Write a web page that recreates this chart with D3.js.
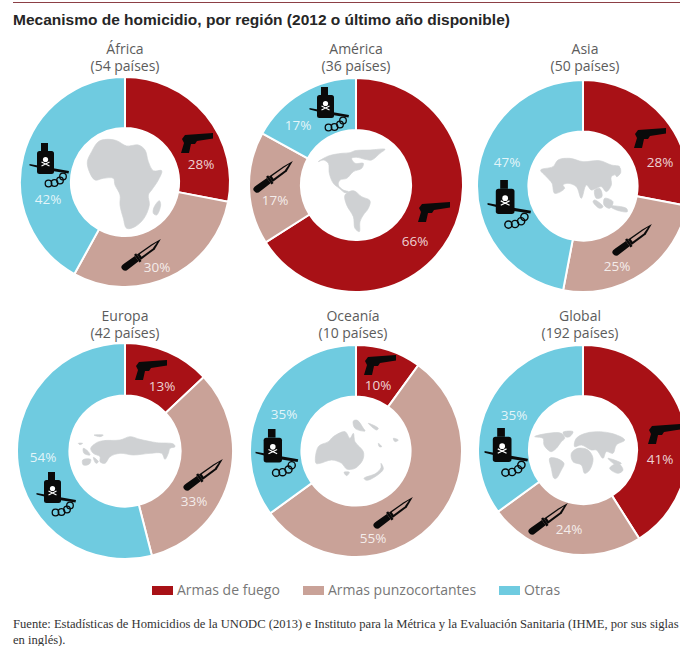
<!DOCTYPE html>
<html>
<head>
<meta charset="utf-8">
<script src="https://cdn.jsdelivr.net/npm/d3@7"></script>
<style>
  html, body { margin: 0; padding: 0; background: #fff; overflow: hidden; }
</style>
</head>
<body>
<div id="chart-area"></div>
<script>
const regions = ['África', 'América', 'Asia', 'Europa', 'Oceanía', 'Global'];
const countries = [54, 36, 50, 42, 10, 192];
const armasFuego = [28, 66, 28, 13, 10, 41];
const armasPunzo = [30, 17, 25, 33, 55, 24];
const otras = [42, 17, 47, 54, 35, 35];
const seriesNames = ['Armas de fuego', 'Armas punzocortantes', 'Otras'];

const colors = ['#a81116', '#c9a298', '#6fcbe0'];
const width = 680, height = 646;

// where each donut sits, its title, and the hand placed labels / icons
const layout = [
  {cx: 125, cy: 182, r: 105, titleX: 125, titleY: 54, labels: [[201, 164], [157, 267], [48, 199]], gun: [180, 133], knife: [141, 256], bottle: [29, 143], bs: 1},
  {cx: 356, cy: 185, r: 107, titleX: 356, titleY: 54, labels: [[415, 241], [275, 200], [298, 125]], gun: [417, 202], knife: [273, 178], bottle: [309, 87], bs: 1},
  {cx: 583, cy: 186, r: 106, titleX: 585, titleY: 54, labels: [[660, 162], [617, 266], [507, 162]], gun: [633, 128], knife: [632, 241], bottle: [487, 180], bs: 1.1},
  {cx: 125, cy: 451, r: 108, titleX: 125, titleY: 321, labels: [[162, 386], [194, 501], [43, 457]], gun: [134, 360], knife: [203, 476], bottle: [36, 472], bs: 1},
  {cx: 356, cy: 451, r: 106, titleX: 353, titleY: 321, labels: [[378, 385], [373, 538], [284, 414]], gun: [363, 355], knife: [393, 514], bottle: [255, 429], bs: 1.08},
  {cx: 583, cy: 450, r: 105, titleX: 580, titleY: 321, labels: [[660, 459], [569, 529], [514, 415]], gun: [647, 424], knife: [548, 520], bottle: [484, 428], bs: 1.1}
];

// rough silhouettes, at 3x, relative to a corner
const maps = [
  {at: [70, 130], shapes: [
    [[85,35],[110,28],[140,32],[170,48],[205,45],[225,60],[235,95],[250,122],[275,122],[265,150],[245,180],[235,195],[238,225],[222,265],[195,290],[170,295],[160,265],[150,225],[150,195],[135,165],[130,145],[100,145],[75,150],[58,125],[52,95],[65,65]],
    [[268,212],[272,225],[260,255],[250,250],[252,232]]
  ]},
  {at: [300, 130], shapes: [
    [[55,95],[85,78],[125,70],[150,68],[165,62],[210,60],[255,58],[240,70],[215,90],[195,88],[170,82],[155,85],[165,100],[190,100],[185,115],[160,125],[140,145],[120,150],[115,165],[130,180],[145,185],[135,188],[118,175],[100,160],[88,130],[85,100],[70,90]],
    [[135,195],[160,182],[185,200],[210,212],[205,235],[190,255],[180,275],[178,305],[165,295],[160,260],[140,225]]
  ]},
  {at: [528, 130], shapes: [
    [[38,120],[75,110],[90,90],[125,85],[165,95],[215,92],[250,105],[275,110],[265,125],[270,130],[250,140],[250,165],[235,185],[220,170],[205,175],[190,180],[175,165],[160,205],[145,170],[120,160],[105,165],[110,175],[80,190],[72,160],[55,140]],
    [[200,180],[215,175],[222,200],[205,205]],
    [[200,210],[225,230],[215,235],[195,215]],
    [[230,205],[255,215],[245,235],[228,225]],
    [[245,228],[295,235],[298,245],[265,240]],
    [[262,125],[275,112],[278,128],[266,140]]
  ]},
  {at: [70, 420], shapes: [
    [[80,68],[100,62],[150,60],[180,50],[210,58],[260,68],[310,72],[315,80],[300,85],[295,100],[285,118],[275,100],[240,100],[190,105],[150,100],[120,110],[105,130],[90,125],[90,110],[70,100],[62,85]],
    [[40,85],[55,95],[60,105],[42,100]],
    [[38,120],[62,118],[58,132],[40,135]],
    [[70,112],[85,125],[78,130]],
    [[72,45],[100,45],[90,50]],
    [[25,70],[38,70],[30,74]]
  ]},
  {at: [300, 395], shapes: [
    [[48,205],[55,155],[85,140],[100,125],[135,110],[150,130],[160,115],[165,140],[190,170],[188,195],[165,220],[140,222],[125,205],[95,195],[60,205]],
    [[160,78],[172,76],[190,100],[195,108],[165,100]],
    [[192,250],[228,235],[243,218],[243,205],[250,222],[230,242],[200,256]],
    [[132,232],[148,232],[140,242]],
    [[205,85],[235,100],[230,105]],
    [[235,145],[245,155],[238,155]],
    [[280,130],[295,135],[285,140]]
  ]},
  {at: [528, 395], shapes: [
    [[20,125],[60,115],[100,115],[110,130],[100,140],[85,160],[70,170],[60,165],[48,150],[45,130]],
    [[105,112],[135,110],[125,125],[112,125]],
    [[65,190],[85,190],[108,205],[100,225],[85,250],[78,250],[70,220]],
    [[130,175],[150,160],[180,165],[195,190],[185,225],[170,235],[160,210],[135,200]],
    [[140,155],[145,130],[185,112],[250,115],[290,135],[265,150],[255,175],[235,170],[225,190],[205,165],[190,165],[160,150]],
    [[245,220],[270,205],[285,225],[270,235]],
    [[240,190],[280,205],[265,210]]
  ]}
];

const gunPath = 'M5 2L33 0L33 5.5L17 8L15 11L11 11L9 20L1 20L4 10L2 6Z';
const knifeHandle = 'M-23 -0.5C-23 -3 -21 -3.5 -18 -3.5L-5 -3.5L-5 3L-18 3.5C-21 4 -23 2.5 -23 -0.5Z';
const knifeGuard = 'M-5 -5L-2.5 -5L-2.5 4.5L-5 4.5Z';
const knifeBlade = 'M-2.5 -3.5L15 -3.5L26 -2.5L15 2.5L-2.5 3Z';
const knifeBladeIn = 'M0 -2.2L15 -2.2L21 -2L14 0.5L0 1Z';

let svg = d3.select('#chart-area')
  .append('svg')
  .attr('width', width)
  .attr('height', height)
  .style('display', 'block');

svg.append('rect').attr('width', width).attr('height', height).attr('fill', '#fff');

svg.append('line')
  .attr('x1', 13).attr('x2', width).attr('y1', 2.5).attr('y2', 2.5)
  .attr('stroke', '#8c3f45').attr('stroke-width', 1);

svg.append('text')
  .attr('x', 13).attr('y', 25)
  .attr('font-family', 'Liberation Sans')
  .attr('font-size', 15.5)
  .attr('font-weight', 'bold')
  .attr('fill', '#262626')
  .text('Mecanismo de homicidio, por región (2012 o último año disponible)');

const pie = d3.pie().sort(null).value(d => d);
const mapLine = d3.line().curve(d3.curveCatmullRomClosed.alpha(0.5));

regions.forEach((name, i) => {
  const l = layout[i];
  const values = [armasFuego[i], armasPunzo[i], otras[i]];
  const arc = d3.arc().innerRadius(l.r * 0.515).outerRadius(l.r);

  const g = svg.append('g');

  g.append('g')
    .attr('transform', `translate(${l.cx}, ${l.cy})`)
    .selectAll('path')
    .data(pie(values))
    .join('path')
    .attr('d', arc)
    .attr('fill', (d, j) => colors[j])
    .attr('stroke', '#fff')
    .attr('stroke-width', 2);

  // region silhouette in the hole
  g.append('g')
    .attr('transform', `translate(${maps[i].at[0]}, ${maps[i].at[1]}) scale(${1 / 3})`)
    .selectAll('path')
    .data(maps[i].shapes)
    .join('path')
    .attr('d', d => mapLine(d))
    .attr('fill', '#cfd1d3')
    .attr('stroke', '#cfd1d3')
    .attr('stroke-width', 2)
    .attr('stroke-linejoin', 'round');

  g.append('path')
    .attr('transform', `translate(${l.gun[0]}, ${l.gun[1]})`)
    .attr('d', gunPath)
    .attr('fill', '#0a0a0a');

  const knife = g.append('g')
    .attr('transform', `translate(${l.knife[0]}, ${l.knife[1]}) rotate(-35)`);
  knife.append('path').attr('d', knifeHandle).attr('fill', '#0a0a0a');
  knife.append('path').attr('d', knifeGuard).attr('fill', '#0a0a0a');
  knife.append('path').attr('d', knifeBlade).attr('fill', '#0a0a0a');
  knife.append('path').attr('d', knifeBladeIn).attr('fill', colors[1]);

  drawBottle(g.append('g')
    .attr('transform', `translate(${l.bottle[0]}, ${l.bottle[1]}) scale(${l.bs})`));

  g.selectAll('text.pct')
    .data(values)
    .join('text')
    .attr('class', 'pct')
    .attr('x', (d, j) => l.labels[j][0])
    .attr('y', (d, j) => l.labels[j][1])
    .attr('dy', '0.35em')
    .attr('text-anchor', 'middle')
    .attr('font-family', 'Open Sans')
    .attr('font-size', 13.5)
    .attr('fill', '#fff')
    .attr('fill-opacity', 0.82)
    .text(d => `${d}%`);

  const title = g.append('text')
    .attr('text-anchor', 'middle')
    .attr('font-family', 'Open Sans')
    .attr('font-size', 14)
    .attr('fill', '#5c5c5c');
  title.append('tspan').attr('x', l.titleX).attr('y', l.titleY).text(name);
  title.append('tspan').attr('x', l.titleX).attr('y', l.titleY + 17).text(`(${countries[i]} países)`);
});

function drawBottle(b) {
  // knife lying behind the bottle, thicker toward the handle
  b.append('path')
    .attr('d', 'M0.5 21L20 24.5L40 28L39.5 30.5L20 27.5L0.5 22.5Z')
    .attr('fill', '#0a0a0a');
  b.append('rect').attr('x', 12).attr('y', 0).attr('width', 7).attr('height', 8).attr('fill', '#0a0a0a');
  b.append('rect').attr('x', 8).attr('y', 8).attr('width', 17).attr('height', 23).attr('rx', 2.5).attr('fill', '#0a0a0a');
  b.append('circle').attr('cx', 16.5).attr('cy', 16.5).attr('r', 2.6).attr('fill', '#fff');
  b.append('path')
    .attr('d', 'M12.5 19L20.5 23M20.5 19L12.5 23')
    .attr('stroke', '#fff').attr('stroke-width', 1.1);
  b.append('g')
    .selectAll('circle')
    .data([[19.5, 40.5], [25.5, 40], [31, 37.5], [34, 33.5]])
    .join('circle')
    .attr('cx', d => d[0]).attr('cy', d => d[1]).attr('r', 3.3)
    .attr('fill', 'none').attr('stroke', '#0a0a0a').attr('stroke-width', 1.3);
}

// legend
const legendX = [152, 303, 499];
const legend = svg.append('g')
  .selectAll('g')
  .data(seriesNames)
  .join('g')
  .attr('transform', (d, i) => `translate(${legendX[i]}, 586)`);
legend.append('rect')
  .attr('width', 21).attr('height', 9)
  .attr('fill', (d, i) => colors[i]);
legend.append('text')
  .attr('x', 25).attr('y', 9)
  .attr('font-family', 'Open Sans')
  .attr('font-size', 14)
  .attr('fill', '#777')
  .text(d => d);

// source note
const note = svg.append('text')
  .attr('font-family', 'Liberation Serif')
  .attr('font-size', 12.6)
  .attr('fill', '#333');
note.append('tspan').attr('x', 13).attr('y', 628)
  .text('Fuente: Estadísticas de Homicidios de la UNODC (2013) e Instituto para la Métrica y la Evaluación Sanitaria (IHME, por sus siglas');
note.append('tspan').attr('x', 13).attr('y', 644).text('en inglés).');
</script>
</body>
</html>
